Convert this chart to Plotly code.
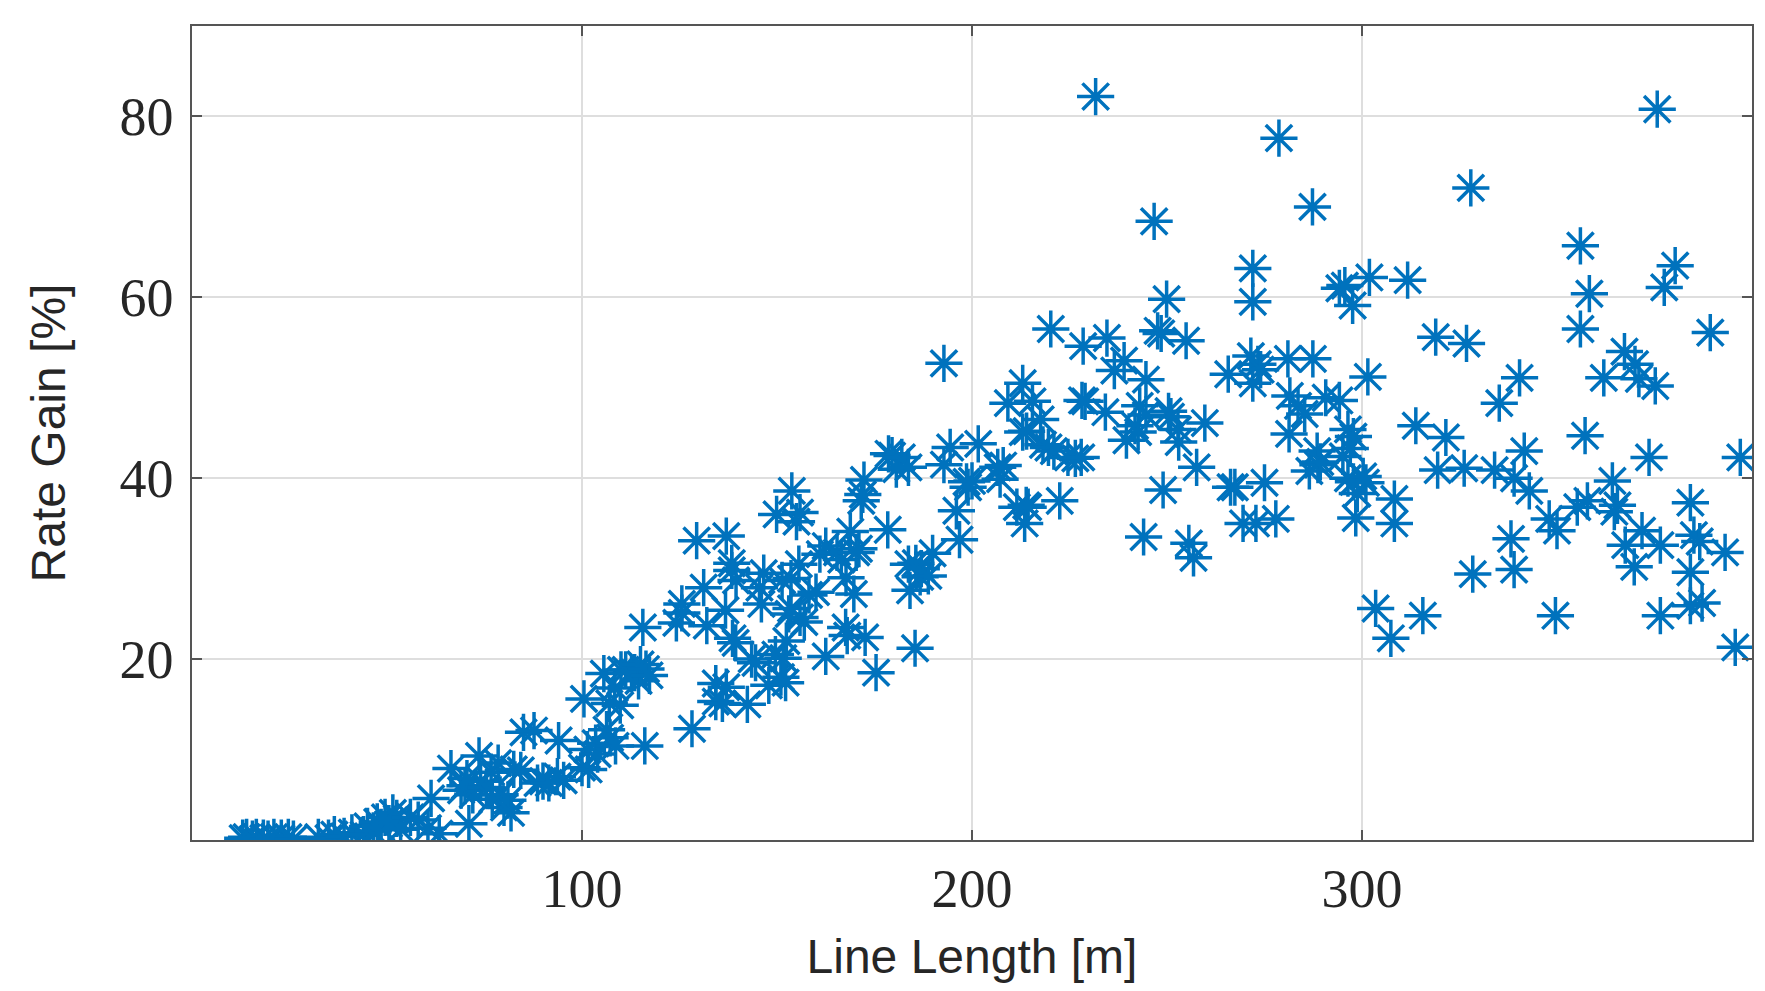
import plotly.graph_objects as go

# Line length [m]
line_length = [
    13, 14, 15.5, 16.5, 18.3, 19.5, 21, 22.9, 24.7, 26,
    32.4, 35, 36.5, 39, 41, 44, 45, 46.5, 47.5, 48.5, 49.5, 50.5, 51.5, 52.5, 53.5, 56, 58, 60.5, 61.3, 63.4,
    66.4, 69, 70, 70.5, 71, 72, 73.6, 74, 75.5, 76.7, 77, 78.5, 79, 80, 81, 81.8, 82.5, 84.3, 85, 87.7, 88.6, 90, 91.5, 93.7, 94, 95.3,
    100, 100.5, 101.7, 101.4, 103.5, 104, 105.6, 106.3, 107, 107.2, 108.4, 108.6, 109.8, 110, 111.2, 112.7, 113.5, 114.5, 115, 115.6, 116.1, 116.4, 117.3,
    124.2, 125.6, 125.6, 128.2, 129.4, 131.2, 132, 134.3, 134.3, 136, 136.8, 137, 137, 138.4, 138.4, 138.6, 139.4, 139.5, 142.4, 143.5, 144.5, 145.5, 146, 146.6, 147.9, 149.6, 149.9,
    151, 151.3, 151.6, 152.2, 152.4, 153, 153.6, 153.6, 153.8, 155, 155.6, 155.9, 155.9, 157, 158.2, 160, 161, 162.5, 162.5, 165.4, 166.5, 167.6, 167.7, 168, 168.8, 169.7, 170.3, 171, 171.6, 172, 172.3, 172.6, 175.4,
    178.4, 178.6, 179.5, 180.6, 182, 183.7, 183.7, 184.1, 185.4, 185.6, 186.7, 187, 188.8, 189.9, 192.8, 192.8, 194.4, 196, 196.8, 198.6, 199, 200,
    201.6, 206.6, 207.2, 208, 209.2, 211.5, 213, 213, 214, 213.5, 213.9, 214.4, 215.5, 217.6, 218.2, 219.6, 220.2, 221, 222.5, 224.6, 226.5, 228, 228.2, 228.5, 229,
    231.7, 234.2, 234.6, 236.5, 239, 239.6, 241.8, 242.6, 243, 244, 244.6, 244.6, 246.7, 247.6, 248.5, 249, 249.9, 250.4, 251, 252.8, 253, 254.9, 255.6, 256.8, 257.6, 259.7,
    265.7, 266.3, 267.4, 269.5, 271.5, 272, 272, 272, 272.8, 273.3, 274, 275, 277.9, 278.7, 281, 281.3, 281.5, 283.6, 285.3, 286.5, 287.3, 287.4, 288.5, 288.7, 289.3, 290.7, 294.2, 294.2, 295.6, 295.1, 296.4, 296.4, 297, 297.6, 297.8, 297.8, 298.4, 298.8, 300.3,
    301, 301.5, 301.9, 303.5, 307.4, 308.3, 308.3, 311.7, 313.8, 315.6, 318.9, 319.4, 321.5, 326.2, 326.8, 327.9, 328.4, 334, 335.2, 338.2, 339, 339, 340.4, 341.6, 342.9, 348, 349.6, 350,
    355.2, 356, 356, 357.2, 357.8, 358.3, 362, 364.2, 364.7, 365.5, 367.3, 367.5, 369.8, 370, 371, 371.8, 373.6, 375.2, 375.7, 376.5, 376.5, 377.5, 380.3, 384.2, 384.2, 384.2, 385.1, 386.6, 387.2, 389.3, 393.1, 395.7, 397,
]

# Rate gain [%]
rate_gain = [
    0.2, 0.3, 0.1, 0.3, 0.2, 0.1, 0.3, 0.2, 0.3, 0.1,
    0.3, 0.2, 0.6, 0.4, 0.8, 0.6, 1.5, 1.0, 2.0, 1.4, 2.5, 1.8, 3.0, 2.4, 1.2, 2.5, 2.2, 1.3, 4.6, 0.7,
    7.9, 5.5, 6.0, 6.8, 1.8, 5.0, 9.3, 6.5, 5.8, 7.5, 4.5, 8.5, 5.0, 3.6, 4.4, 3.0, 7.8, 7.7, 11.9, 12.1, 6.3, 6.5, 6.3, 7.0, 11.0, 6.6,
    8.0, 15.6, 7.8, 10.0, 10.7, 9.5, 18.4, 12.2, 15.1, 11.3, 16.8, 10.4, 14.9, 18.8, 18.8, 18.4, 18.5, 17.6, 19.4, 23.5, 10.4, 18.9, 18.2,
    24.0, 26.1, 25.1, 12.3, 33.1, 27.9, 23.7, 17.3, 15.3, 15.1, 25.4, 16.9, 33.6, 30.6, 29.8, 22.3, 21.8, 28.7, 15.0, 20.0, 19.6, 27.9, 26.1, 29.5, 17.1, 20.5, 36.0,
    18.0, 28.7, 20.1, 17.4, 22.0, 25.0, 25.6, 28.9, 38.6, 35.2, 30.5, 36.2, 24.6, 24.1, 27.1, 27.4, 31.6, 20.3, 32.5, 31.8, 31.0, 23.5, 29.0, 22.6, 34.1, 27.2, 31.8, 32.2, 37.5, 38.2, 39.8, 22.4, 18.5,
    34.3, 42.7, 42.5, 41.0, 42.3, 41.2, 30.5, 27.6, 21.2, 30.6, 29.1, 30.0, 29.2, 31.7, 52.7, 41.5, 43.4, 36.4, 33.2, 39.6, 39.0, 39.7,
    43.8, 41.2, 39.9, 41.4, 48.3, 36.8, 50.5, 45.1, 45.2, 35.0, 37.0, 36.8, 48.5, 46.5, 43.7, 43.4, 56.5, 43.0, 37.5, 42.3, 42.2, 42.3, 48.6, 54.6, 48.5,
    82.2, 47.3, 55.5, 51.9, 53.0, 44.2, 45.8, 45.1, 48.0, 33.5, 50.9, 47.0, 68.4, 56.3, 56.0, 38.7, 59.8, 47.4, 46.8, 45.4, 44.0, 55.2, 32.8, 31.2, 41.2, 46.1,
    51.5, 39.0, 39.0, 35.0, 53.5, 63.2, 59.5, 50.5, 35.0, 52.6, 52.0, 39.5, 35.5, 77.6, 53.2, 44.9, 49.1, 48.0, 47.1, 40.8, 70.0, 53.2, 43.0, 41.5, 41.8, 48.9, 48.6, 61.0, 61.3, 42.4, 45.4, 40.0, 43.3, 59.1, 44.6, 39.6, 35.6, 38.3, 40.2,
    39.5, 51.2, 62.2, 25.6, 22.3, 37.7, 35.0, 61.9, 45.8, 24.8, 55.6, 40.9, 44.5, 41.1, 54.9, 72.1, 29.4, 40.9, 48.3, 33.3, 29.9, 40.0, 51.1, 43.0, 38.6, 35.5, 24.8, 34.2,
    36.8, 65.7, 56.5, 44.7, 37.5, 60.4, 51.1, 39.7, 36.3, 37.0, 54.0, 32.6, 30.2, 52.6, 51.0, 34.2, 42.3, 50.2, 80.8, 32.6, 24.8, 61.1, 63.5, 37.3, 29.6, 25.9, 33.7, 33.0, 26.2, 56.1, 31.8, 21.3, 42.3,
]

x_ticks = [100, 200, 300]
y_ticks = [20, 40, 60, 80]

blue = "#0072BD"

fig = go.Figure(
    go.Scatter(
        x=line_length,
        y=rate_gain,
        mode="markers",
        marker=dict(symbol="asterisk-open", size=31, color=blue,
                    line=dict(color=blue, width=3.5)),
        showlegend=False,
    )
)

axis_common = dict(
    showgrid=True, gridcolor="#dedede", gridwidth=1.5,
    showline=True, linecolor="#555555", linewidth=1.5, mirror="ticks",
    ticks="inside", ticklen=10, tickcolor="#555555", tickwidth=1.5,
    zeroline=False,
    tickfont=dict(family="Liberation Serif, Times New Roman, serif", size=54, color="#262626"),
)

title_font = dict(family="Liberation Sans, Arial, sans-serif", size=48, color="#262626")

fig.update_xaxes(range=[0, 400], tickvals=x_ticks,
                 title=dict(text="Line Length [m]", standoff=22, font=title_font),
                 **axis_common)
fig.update_yaxes(range=[0, 90], tickvals=y_ticks, ticklabelstandoff=6,
                 title=dict(text="Rate Gain [%]", standoff=39, font=title_font),
                 **axis_common)

fig.update_layout(
    width=1757, height=983,
    margin=dict(l=184, r=11, t=18, b=151),
    paper_bgcolor="white", plot_bgcolor="white",
)

fig.write_html("out.html")
